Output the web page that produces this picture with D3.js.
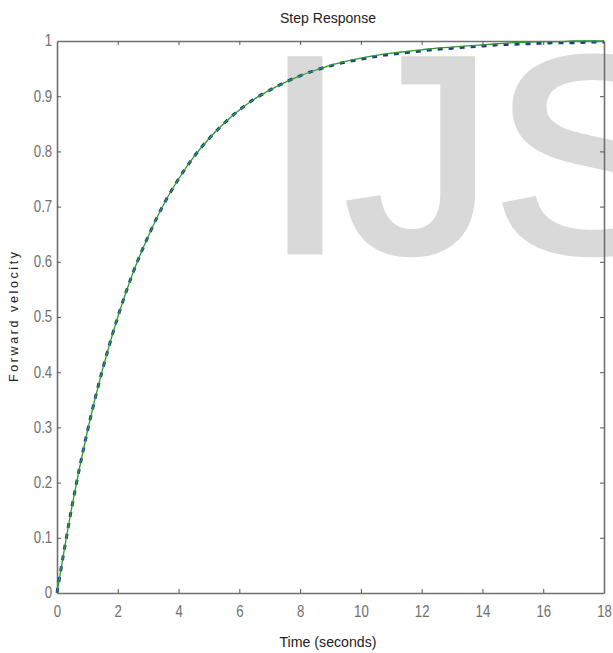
<!DOCTYPE html>
<html>
<head>
<meta charset="utf-8">
<script src="https://cdn.jsdelivr.net/npm/d3@7"></script>
<style>
  body { margin: 0; background: #fff; }
  svg { display: block; }
  .tickText { font-family: "Liberation Sans", Arial, sans-serif; font-size: 16.5px; fill: #707070; }
</style>
</head>
<body>
<div id="chart"></div>
<script>
// ****************************************************
// data
var times = [0, 0.5, 1, 1.5, 2, 2.5, 3, 3.5, 4, 4.5, 5, 5.5, 6, 6.5, 7, 7.5, 8, 8.5, 9,
    9.5, 10, 10.5, 11, 11.5, 12, 12.5, 13, 13.5, 14, 14.5, 15, 15.5, 16, 16.5, 17, 17.5, 18];
var greenValues = [0, 0.159, 0.293, 0.405, 0.500, 0.580, 0.646, 0.703, 0.750, 0.790, 0.823,
    0.851, 0.875, 0.895, 0.911, 0.925, 0.937, 0.947, 0.956, 0.963, 0.969, 0.974, 0.978,
    0.981, 0.984, 0.987, 0.989, 0.991, 0.993, 0.995, 0.997, 0.998, 0.999, 0.999, 1.0, 1.0, 1.0];
var blueValues = [0, 0.159, 0.293, 0.405, 0.500, 0.580, 0.646, 0.703, 0.750, 0.790, 0.823,
    0.851, 0.875, 0.895, 0.911, 0.925, 0.937, 0.947, 0.955, 0.962, 0.967, 0.972, 0.976,
    0.979, 0.982, 0.985, 0.987, 0.989, 0.991, 0.993, 0.994, 0.995, 0.996, 0.997, 0.997, 0.998, 0.998];
var xTicks = [0, 2, 4, 6, 8, 10, 12, 14, 16, 18];
var yTicks = [0, 0.1, 0.2, 0.3, 0.4, 0.5, 0.6, 0.7, 0.8, 0.9, 1];

// ****************************************************
// setup the svg area
var svgWidth = 613;
var svgHeight = 653;
var plot = { left: 57, right: 604, top: 41, bottom: 593 };
var tickLen = 4;
var axisColor = "#707070";

var svg = d3.select("#chart")
    .append("svg")
    .attr("width", svgWidth)
    .attr("height", svgHeight);

var xScale = d3.scaleLinear().domain([0, 18]).range([plot.left, plot.right]);
var yScale = d3.scaleLinear().domain([0, 1]).range([plot.bottom, plot.top]);

// ****************************************************
// watermark behind everything (stretched a bit, stroke thickens the letters)
svg.append("text")
    .attr("transform", "translate(264, 251) scale(1.06, 1)")
    .attr("font-family", "Liberation Sans, Arial, sans-serif")
    .attr("font-size", 278)
    .attr("fill", "#d9d9d9")
    .attr("stroke", "#d9d9d9")
    .attr("stroke-width", 7)
    .text("IJS");

// ****************************************************
// axes: box with inward ticks on all four sides
var bottomAxis = d3.axisBottom(xScale).tickValues(xTicks).tickSizeInner(-tickLen).tickSizeOuter(0).tickPadding(12);
var topAxis = d3.axisTop(xScale).tickValues(xTicks).tickSizeInner(-tickLen).tickSizeOuter(0).tickFormat("");
var leftAxis = d3.axisLeft(yScale).tickValues(yTicks).tickSizeInner(-tickLen).tickSizeOuter(0).tickPadding(6).tickFormat(d3.format("~g"));
var rightAxis = d3.axisRight(yScale).tickValues(yTicks).tickSizeInner(-tickLen).tickSizeOuter(0).tickFormat("");

svg.append("g").attr("class", "xAxis").attr("transform", `translate(0, ${plot.bottom})`).call(bottomAxis);
svg.append("g").attr("class", "xAxisTop").attr("transform", `translate(0, ${plot.top})`).call(topAxis);
svg.append("g").attr("class", "yAxis").attr("transform", `translate(${plot.left}, 0)`).call(leftAxis);
svg.append("g").attr("class", "yAxisRight").attr("transform", `translate(${plot.right}, 0)`).call(rightAxis);

svg.selectAll(".domain").attr("stroke", axisColor).attr("stroke-width", 1.6);
svg.selectAll(".tick line").attr("stroke", "#555").attr("stroke-width", 1);
// narrow the tick labels like the original
svg.selectAll(".tick text")
    .attr("class", "tickText")
    .attr("fill", null)
    .attr("transform", "scale(0.8, 1)");
svg.selectAll(".yAxis .tick text").attr("dy", "0.3em");
// hide the inner ticks at the corners
svg.selectAll(".xAxis .tick, .xAxisTop .tick").filter(function(d) { return d === 0 || d === 18; }).select("line").remove();
svg.selectAll(".yAxis .tick, .yAxisRight .tick").filter(function(d) { return d === 0 || d === 1; }).select("line").remove();

// ****************************************************
// curves
var stepLine = d3.line()
    .x(function(d, i) { return xScale(times[i]); })
    .y(function(d) { return yScale(d); })
    .curve(d3.curveMonotoneX);

svg.append("path")
    .datum(blueValues)
    .attr("d", stepLine)
    .attr("fill", "none")
    .attr("stroke", "#1c3c8c")
    .attr("stroke-width", 3)
    .attr("stroke-dasharray", "5,6");

svg.append("path")
    .datum(greenValues)
    .attr("d", stepLine)
    .attr("fill", "none")
    .attr("stroke", "#2e9a2e")
    .attr("stroke-width", 1.3);

// ****************************************************
// title and axis labels
svg.append("text")
    .attr("x", 328)
    .attr("y", 23)
    .attr("text-anchor", "middle")
    .attr("font-family", "Liberation Sans, Arial, sans-serif")
    .attr("font-size", 15)
    .attr("fill", "#222")
    .attr("textLength", 96)
    .attr("lengthAdjust", "spacingAndGlyphs")
    .text("Step Response");

svg.append("text")
    .attr("x", 328)
    .attr("y", 647)
    .attr("text-anchor", "middle")
    .attr("font-family", "Liberation Sans, Arial, sans-serif")
    .attr("font-size", 15.5)
    .attr("fill", "#222")
    .attr("textLength", 97)
    .attr("lengthAdjust", "spacingAndGlyphs")
    .text("Time (seconds)");

svg.append("text")
    .attr("transform", "translate(18, 317) rotate(-90)")
    .attr("text-anchor", "middle")
    .attr("font-family", "Liberation Sans, Arial, sans-serif")
    .attr("font-size", 12.5)
    .attr("fill", "#222")
    .attr("textLength", 130)
    .attr("lengthAdjust", "spacing")
    .text("Forward velocity");
</script>
</body>
</html>
